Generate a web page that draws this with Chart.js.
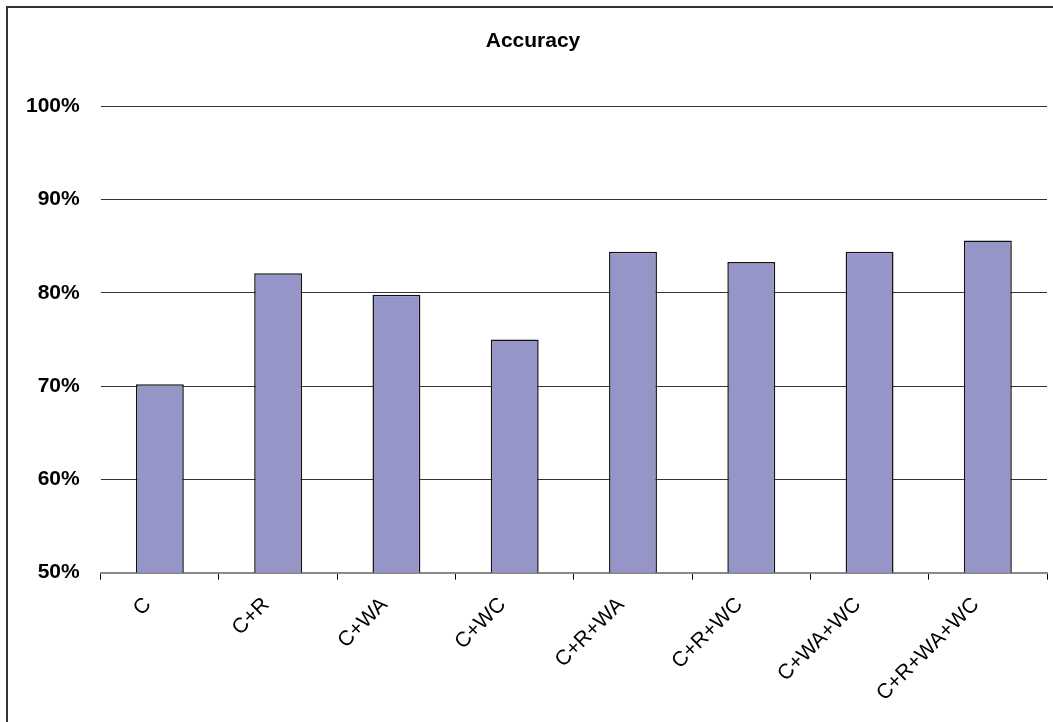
<!DOCTYPE html>
<html>
<head>
<meta charset="utf-8">
<title>Accuracy</title>
<script src="https://cdn.jsdelivr.net/npm/chart.js@4/dist/chart.umd.min.js"></script>
<style>
    html, body { margin: 0; padding: 0; background: #fff; overflow: hidden; }
    #wrap { position: relative; width: 1053px; height: 722px; overflow: hidden; }
    /* outer chart frame, runs off the right and bottom edges */
    #frame {
        position: absolute; left: 6px; top: 6px;
        width: 1100px; height: 800px;
        border: 2px solid #333; box-sizing: border-box;
        pointer-events: none;
    }
    canvas { position: absolute; left: 0; top: 0; }
</style>
</head>
<body>
<div id="wrap">
    <!-- canvas is a little wider than the view so the title centres on the frame -->
    <canvas id="accuracyChart" width="1066" height="722"></canvas>
    <div id="frame"></div>
</div>
<script>
// feature combinations and their accuracy (%)
const categories = ['C', 'C+R', 'C+WA', 'C+WC', 'C+R+WA', 'C+R+WC', 'C+WA+WC', 'C+R+WA+WC'];
const accuracy   = [70.2, 82.1, 79.8, 75.0, 84.4, 83.3, 84.4, 85.6];
const yTicks     = [50, 60, 70, 80, 90, 100];

const FONT = "Arial, 'Liberation Sans', sans-serif";

const ctx = document.getElementById('accuracyChart').getContext('2d');
new Chart(ctx, {
    type: 'bar',
    data: {
        labels: categories,
        datasets: [{
            data: accuracy,
            backgroundColor: '#9595c8',
            borderColor: '#111',
            borderWidth: 1.5,
            borderSkipped: false,
            barPercentage: 0.405,
            categoryPercentage: 1.0
        }]
    },
    options: {
        responsive: false,
        animation: false,
        layout: { padding: { left: 5, right: 5, top: 0, bottom: 3 } },
        plugins: {
            legend: { display: false },
            tooltip: { enabled: false },
            title: {
                display: true,
                text: 'Accuracy',
                color: '#000',
                font: { family: FONT, size: 21, weight: 'bold' },
                padding: { top: 29, bottom: 52 }
            }
        },
        scales: {
            x: {
                offset: true,
                grid: {
                    offset: true,
                    drawOnChartArea: false,
                    drawTicks: true,
                    tickLength: 7,
                    color: '#000',
                    lineWidth: 1
                },
                border: { display: true, color: '#888', width: 2 },
                ticks: {
                    color: '#000',
                    font: { family: FONT, size: 21 },
                    minRotation: 45,
                    maxRotation: 45,
                    autoSkip: false,
                    labelOffset: -12,
                    padding: 13
                }
            },
            y: {
                min: yTicks[0],
                max: yTicks[yTicks.length - 1],
                afterBuildTicks: axis => { axis.ticks = yTicks.map(v => ({ value: v })); },
                grid: { color: '#333', lineWidth: 1, drawTicks: false },
                border: { display: false },
                ticks: {
                    color: '#000',
                    font: { family: FONT, size: 21, weight: 'bold' },
                    padding: 21,
                    callback: v => v + '%'
                }
            },
            // empty right-hand spacer so the plot stops short of the frame edge
            spacer: {
                type: 'linear',
                position: 'right',
                grid: { display: false },
                border: { display: false },
                ticks: { display: false },
                afterFit: axis => { axis.width = 14; }
            }
        }
    }
});
</script>
</body>
</html>
